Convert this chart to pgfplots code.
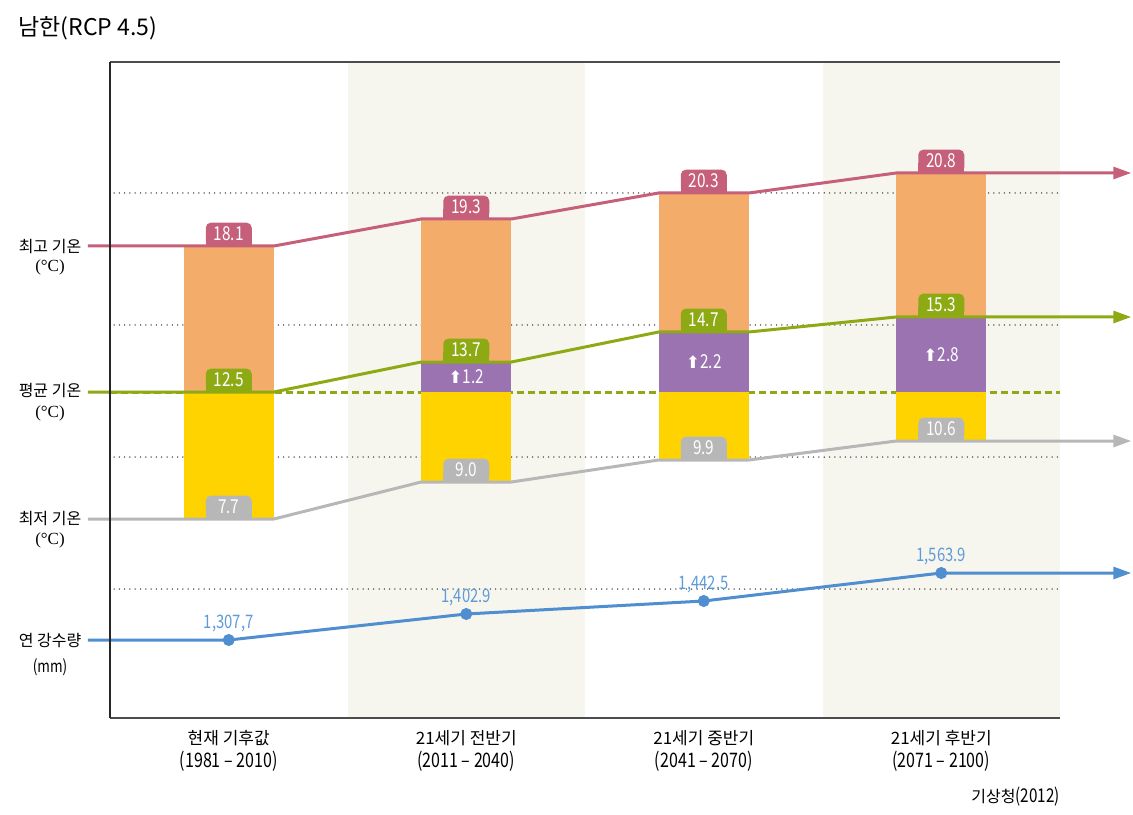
\documentclass[border=0pt]{standalone}
\usepackage{fontspec}
\usepackage{pgfplots}
\pgfplotsset{compat=1.18}
\usepackage{pgfplotstable}
\usetikzlibrary{arrows.meta}
\setmainfont{Noto Sans CJK KR}
\newfontfamily\numf[FakeStretch=0.8]{Noto Sans CJK KR}
\newfontfamily\serif{Liberation Serif}
\newfontfamily\sym{DejaVu Sans}

\definecolor{cmax}{HTML}{C6607A}
\definecolor{cmean}{HTML}{8DAA14}
\definecolor{cmin}{HTML}{B7B7B7}
\definecolor{cpre}{HTML}{4F8FD0}
\definecolor{cpretext}{HTML}{5E9BD8}
\definecolor{corange}{HTML}{F4AC6A}
\definecolor{cyellow}{HTML}{FFD300}
\definecolor{cpurple}{HTML}{9B73B1}
\definecolor{cband}{HTML}{F7F6EE}

% x: period centre (0.5 ... 3.5); pos: vertical position in the schematic; val: printed value
\pgfplotstableread{
x   pos val
0.5 568 18.1
1.5 595 19.3
2.5 621 20.3
3.5 641 20.8
}\tmax
\pgfplotstableread{
x   pos val
0.5 422 12.5
1.5 452 13.7
2.5 482 14.7
3.5 497 15.3
}\tmean
\pgfplotstableread{
x   pos val
0.5 295 7.7
1.5 332 9.0
2.5 354 9.9
3.5 373 10.6
}\tmin
\pgfplotstableread{
x   pos val
0.5 174 1,307,7
1.5 200 1,402.9
2.5 213 1,442.5
3.5 241 1,563.9
}\tpre
\pgfplotstableread{
x   pos   val
1.5 437   1.2
2.5 452   2.2
3.5 459.5 2.8
}\tinc

\pgfplotsset{
  boxbase/.style={draw=none, nodes near coords={}, point meta=explicit symbolic,
    every node near coord/.style={fill=#1, anchor=south, inner sep=0pt,
      minimum width=23pt, minimum height=5pt}},
  boxlab/.style={draw=none, nodes near coords, point meta=explicit symbolic,
    every node near coord/.style={fill=#1, text=white, anchor=south, inner sep=0pt,
      rounded corners=2.6pt, minimum width=23pt, minimum height=11.5pt,
      font=\numf\fontsize{9.6}{9.6}\selectfont}},
}

\begin{document}
\begin{tikzpicture}
\path[use as bounding box] (0,0) rectangle (566.5pt,407pt);
\begin{axis}[
  at={(55pt,48pt)}, anchor=south west,
  scale only axis, width=475pt, height=328pt,
  xmin=0, xmax=4, ymin=96, ymax=752,
  clip=false,
  axis line style={draw=none},
  ytick=\empty,
  xtick={0.5,1.5,2.5,3.5},
  major tick length=0pt,
  xticklabels={
    {현재 기후값\\{\numf\fontsize{10}{10}\selectfont(1981 – 2010)}},
    {21세기 전반기\\{\numf\fontsize{10}{10}\selectfont(2011 – 2040)}},
    {21세기 중반기\\{\numf\fontsize{10}{10}\selectfont(2041 – 2070)}},
    {21세기 후반기\\{\numf\fontsize{10}{10}\selectfont(2071 – 2100)}}},
  xticklabel style={align=center, font=\fontsize{8.5}{11.5}\selectfont,
    inner sep=0pt, anchor=north, yshift=-6pt},
]
% background bands
\addplot[fill=cband, draw=none] coordinates {(1,96) (2,96) (2,752) (1,752)} -- cycle;
\addplot[fill=cband, draw=none] coordinates {(3,96) (4,96) (4,752) (3,752)} -- cycle;
% dotted guide lines
\foreach \g in {621,489,357,225}{
  \edef\tmp{\noexpand\draw[gray!40!black, line width=0.75pt, line cap=round,
     dash pattern=on 0pt off 2.65pt] (axis cs:0.017,\g) -- (axis cs:3.99,\g);}\tmp
}
% dashed reference of present mean
\addplot[cmean, line width=1.5pt, dash pattern=on 3.5pt off 2pt] coordinates {(0,422) (4,422)};

% bars: orange (max-mean), purple (increase of mean), yellow (base mean - min)
\addplot[fill=corange, draw=none] coordinates {(0.31,568) (0.69,568) (0.69,422) (0.31,422)} -- cycle;
\addplot[fill=corange, draw=none] coordinates {(1.31,595) (1.69,595) (1.69,452) (1.31,452)} -- cycle;
\addplot[fill=corange, draw=none] coordinates {(2.31,621) (2.69,621) (2.69,482) (2.31,482)} -- cycle;
\addplot[fill=corange, draw=none] coordinates {(3.31,641) (3.69,641) (3.69,497) (3.31,497)} -- cycle;
\addplot[fill=cpurple, draw=none] coordinates {(1.31,452) (1.69,452) (1.69,422) (1.31,422)} -- cycle;
\addplot[fill=cpurple, draw=none] coordinates {(2.31,482) (2.69,482) (2.69,422) (2.31,422)} -- cycle;
\addplot[fill=cpurple, draw=none] coordinates {(3.31,497) (3.69,497) (3.69,422) (3.31,422)} -- cycle;
\addplot[fill=cyellow, draw=none] coordinates {(0.31,422) (0.69,422) (0.69,295) (0.31,295)} -- cycle;
\addplot[fill=cyellow, draw=none] coordinates {(1.31,422) (1.69,422) (1.69,332) (1.31,332)} -- cycle;
\addplot[fill=cyellow, draw=none] coordinates {(2.31,422) (2.69,422) (2.69,354) (2.31,354)} -- cycle;
\addplot[fill=cyellow, draw=none] coordinates {(3.31,422) (3.69,422) (3.69,373) (3.31,373)} -- cycle;

% temperature lines
\addplot[cmax, line width=1.5pt, -{Triangle[length=9pt,width=6pt]}] coordinates
  {(-0.093,568) (0.69,568) (1.31,595) (1.69,595) (2.31,621) (2.69,621) (3.31,641) (4.30,641)};
\addplot[cmean, line width=1.5pt, -{Triangle[length=9pt,width=6pt]}] coordinates
  {(-0.093,422) (0.69,422) (1.31,452) (1.69,452) (2.31,482) (2.69,482) (3.31,497) (4.30,497)};
\addplot[cmin, line width=1.5pt, -{Triangle[length=9pt,width=6pt]}] coordinates
  {(-0.093,295) (0.69,295) (1.31,332) (1.69,332) (2.31,354) (2.69,354) (3.31,373) (4.30,373)};

% value boxes
\addplot[boxbase=cmax] table[x=x, y=pos, meta=val] \tmax;
\addplot[boxlab=cmax] table[x=x, y=pos, meta=val] \tmax;
\addplot[boxbase=cmean] table[x=x, y=pos, meta=val] \tmean;
\addplot[boxlab=cmean] table[x=x, y=pos, meta=val] \tmean;
\addplot[boxbase=cmin] table[x=x, y=pos, meta=val] \tmin;
\addplot[boxlab=cmin] table[x=x, y=pos, meta=val] \tmin;

% increase of the mean
\addplot[draw=none, point meta=explicit symbolic,
  nodes near coords={{\sym\fontsize{8.5}{8.5}\selectfont ⬆}\pgfplotspointmeta},
  every node near coord/.style={anchor=center, text=white, inner sep=0pt,
    font=\numf\fontsize{9.6}{9.6}\selectfont}]
  table[x=x, y=pos, meta=val] \tinc;

% precipitation
\addplot[cpre, line width=1.5pt, -{Triangle[length=9pt,width=6pt]}] coordinates
  {(-0.093,174) (0.5,174) (1.5,200) (2.5,213) (3.5,241) (4.30,241)};
\addplot[only marks, mark=*, mark size=2.8pt, color=cpre, point meta=explicit symbolic,
  nodes near coords,
  every node near coord/.style={anchor=base, yshift=6pt, text=cpretext, inner sep=0pt,
    font=\numf\fontsize{9.3}{9.3}\selectfont}]
  table[x=x, y=pos, meta=val] \tpre;

% frame
\draw[gray!60!black, line width=1pt] (axis cs:0,752) -- (axis cs:4,752);
\draw[gray!60!black, line width=1pt] (axis cs:0,96) -- (axis cs:4,96);
\draw[black!85, line width=1pt] (axis cs:0,96) -- (axis cs:0,752);

% side labels
\node[font=\fontsize{8}{8}\selectfont] at (axis cs:-0.2526,567) {최고 기온};
\node[font=\serif\fontsize{8.5}{8.5}\selectfont] at (axis cs:-0.2526,547) {(°C)};
\node[font=\fontsize{8}{8}\selectfont] at (axis cs:-0.2526,423) {평균 기온};
\node[font=\serif\fontsize{8.5}{8.5}\selectfont] at (axis cs:-0.2526,401) {(°C)};
\node[font=\fontsize{8}{8}\selectfont] at (axis cs:-0.2526,295) {최저 기온};
\node[font=\serif\fontsize{8.5}{8.5}\selectfont] at (axis cs:-0.2526,274) {(°C)};
\node[font=\fontsize{8}{8}\selectfont] at (axis cs:-0.2526,173) {연 강수량};
\node[font=\numf\fontsize{8.5}{8.5}\selectfont] at (axis cs:-0.2526,147) {(mm)};

% title and source
\node[anchor=west, inner sep=0pt, font=\fontsize{11.5}{11.5}\selectfont] at (axis cs:-0.3874,786) {남한(RCP 4.5)};
\node[anchor=east, inner sep=0pt, font=\fontsize{8}{8}\selectfont] at (axis cs:4.0,17) {기상청{\numf\fontsize{9.5}{9.5}\selectfont(2012)}};
\end{axis}
\end{tikzpicture}
\end{document}
